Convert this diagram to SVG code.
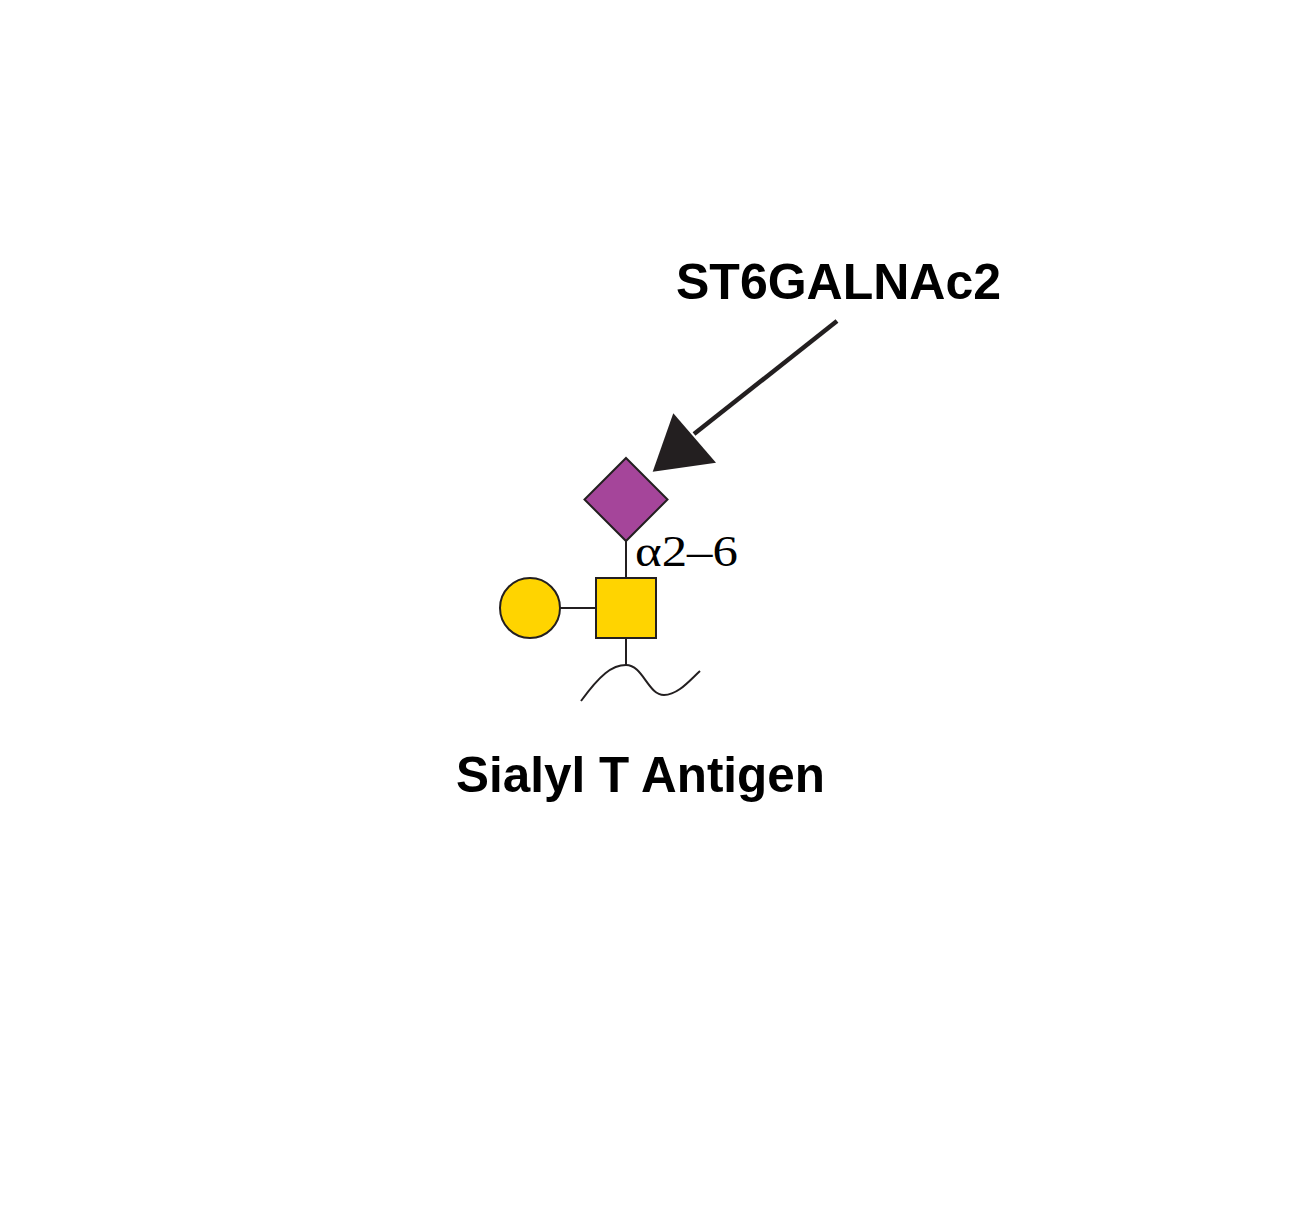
<svg xmlns="http://www.w3.org/2000/svg" width="1291" height="1214" viewBox="0 0 1291 1214">
<style>
.lbl{font-family:"Liberation Sans",Arial,sans-serif;font-weight:bold;font-size:50px;fill:#000}
.link{font-family:"Liberation Serif","Times New Roman",serif;font-size:45px;fill:#000}
.bond{stroke:#231f20;stroke-width:2;fill:none}
.sym{stroke:#231f20;stroke-width:2}
</style>
<rect width="1291" height="1214" fill="#fff"/>
<g id="connectors">
<line class="bond" x1="626" y1="541" x2="626" y2="578"/>
<line class="bond" x1="560" y1="608" x2="596" y2="608"/>
<line class="bond" x1="626" y1="638" x2="626" y2="665"/>
<path class="bond" d="M581,701 C600,675 612,665 626,665 C643,665 648,695 664,695 C678,695 690,680 700,671"/>
<path d="M837,321 L694,434" stroke="#231f20" stroke-width="4.5" fill="none"/>
<polygon points="652.7,471.7 673.3,413.3 716,462.7" fill="#231f20"/>
</g>
<g id="neu5ac">
<polygon class="sym" points="626,458 667.5,499.5 626,541 584.5,499.5" fill="#a5459a"/>
</g>
<g id="galnac">
<rect class="sym" x="596" y="578" width="60" height="60" fill="#ffd400"/>
</g>
<g id="gal">
<circle class="sym" cx="530" cy="608" r="30" fill="#ffd400"/>
</g>
<g id="linkage">
<text class="link" transform="translate(635,566) scale(1.13,1)" x="0" y="0">α2–6</text>
</g>
<g id="enzyme">
<text class="lbl" x="676" y="299">ST6GALNAc2</text>
</g>
<g id="title">
<text class="lbl" x="456" y="792" textLength="369" lengthAdjust="spacingAndGlyphs">Sialyl T Antigen</text>
</g>
</svg>
